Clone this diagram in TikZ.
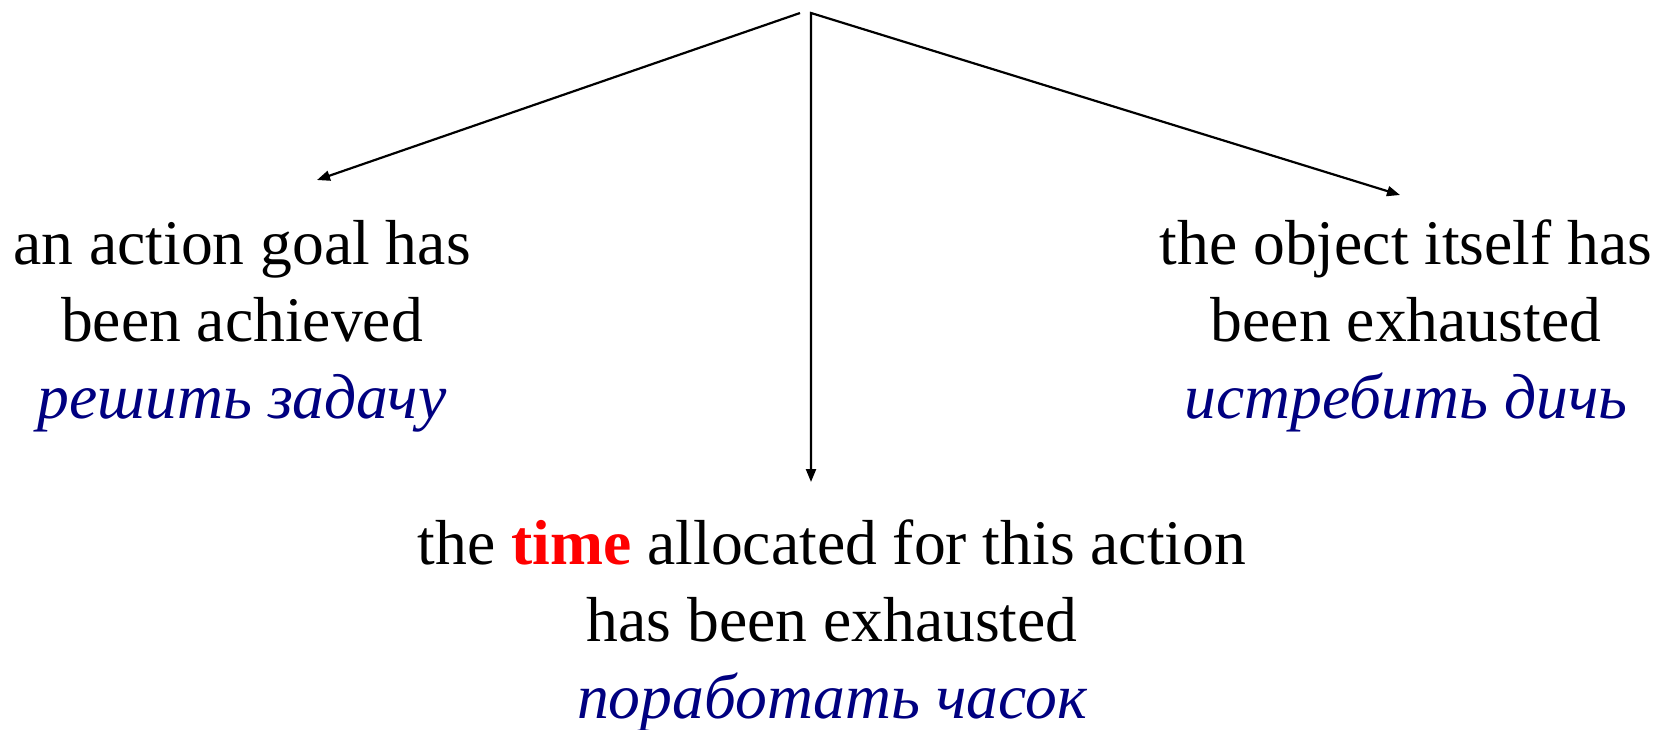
\documentclass[tikz,border=0pt]{standalone}
\usepackage{fontspec}
\setmainfont{Liberation Serif}
\usetikzlibrary{arrows.meta}
\definecolor{navyru}{RGB}{0,0,128}
\definecolor{redtime}{RGB}{255,0,0}
\begin{document}
\begin{tikzpicture}[x=1pt,y=-1pt,
  txt/.style={inner sep=0pt, align=center, anchor=base,
    font=\fontsize{63.6}{77}\selectfont},
  tip/.style={Triangle[length=13pt,width=10pt]},
  conn/.style={line width=2.2pt, -{Triangle[length=13pt,width=10pt]}}]
\useasboundingbox (0,0) rectangle (1657,729);
\node[txt] (left) at (242,418) {an action goal has\\been achieved\\\textcolor{navyru}{\itshape решить задачу}};
\node[txt] (right) at (1406,418) {the object itself has\\been exhausted\\\textcolor{navyru}{\itshape истребить дичь}};
\node[txt] (bottom) at (832,718) {the \textcolor{redtime}{\bfseries time} allocated for this action\\has been exhausted\\\textcolor{navyru}{\itshape поработать часок}};
\coordinate (apexL) at (800,13);
\coordinate (apex) at (811,13);
\coordinate (tipL) at (317,180);
\coordinate (tipR) at (1400,195);
\coordinate (tipM) at (811,482);
\draw[conn] (apexL) -- (tipL);
\draw[line width=2.2pt, {Triangle[length=13pt,width=10pt]}-{Triangle[length=13pt,width=10pt]}] (tipM) -- (apex) -- (tipR);
\end{tikzpicture}
\end{document}
